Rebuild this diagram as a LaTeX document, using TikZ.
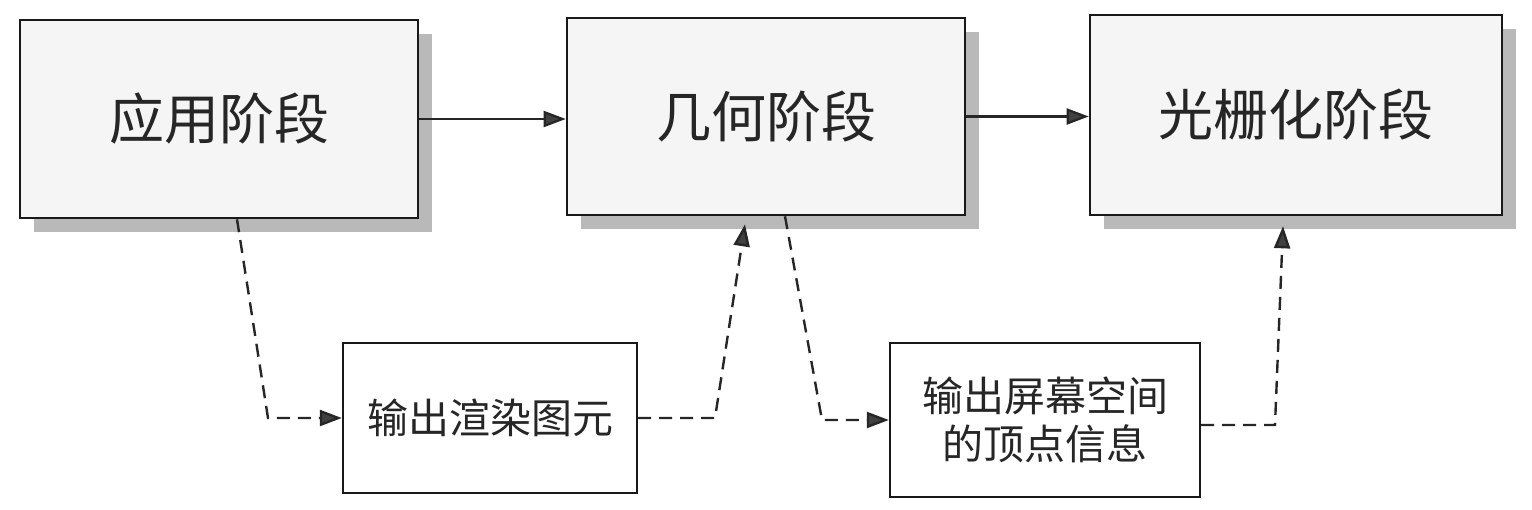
\documentclass[tikz,border=0pt]{standalone}
\usepackage{fontspec}
\setmainfont{Noto Sans CJK SC}
\usetikzlibrary{shadows,arrows.meta,calc}
\begin{document}
\begin{tikzpicture}[x=0.5pt,y=-0.5pt,
  stagebox/.style={draw=black!90,line width=1.3pt,fill=gray!8,
    drop shadow={shadow xshift=7pt,shadow yshift=-7pt,fill=gray!55,opacity=1},
    font=\fontsize{27.5pt}{32pt}\selectfont,text=black!85,inner sep=0pt},
  outbox/.style={draw=black!90,line width=1.2pt,fill=white,
    font=\fontsize{20.5pt}{24pt}\selectfont,text=black!85,align=center,inner sep=0pt},
  flow/.style={line width=1.1pt,draw=black!85,-{Triangle[length=11pt,width=8pt,fill=black!75]}},
  dflow/.style={line width=1.2pt,draw=black!85,dash pattern=on 6.5pt off 4pt,-{Triangle[length=11pt,width=8pt,fill=black!75]}}]
\useasboundingbox (0,0) rectangle (1532,509);
\node[stagebox,minimum width=199pt,minimum height=99pt] (b1) at (219,119) {应用阶段};
\node[stagebox,minimum width=199pt,minimum height=98.5pt] (b2) at (766,116.5) {几何阶段};
\node[stagebox,minimum width=206pt,minimum height=100pt] (b3) at (1296,115) {光栅化阶段};
\node[outbox,minimum width=147pt,minimum height=75pt] (s1) at (490,418) {输出渲染图元};
\node[outbox,minimum width=155pt,minimum height=77pt] (s2) at (1045,420) {输出屏幕空间\\的顶点信息};
\coordinate (c1) at (268,418);
\coordinate (c2) at (715,418);
\coordinate (c3) at (822,420);
\coordinate (c4) at (1275,425);
\draw[flow] (b1.east) -- (b1.east -| b2.west);
\draw[flow] (b2.east) -- (b2.east -| b3.west);
\draw[dflow] ([xshift=9pt]b1.south) -- (c1) -- (s1.west);
\draw[dflow] (s1.east) -- (c2) -- ([xshift=-10.5pt,yshift=-4pt]b2.south);
\draw[dflow] ([xshift=9.5pt]b2.south) -- (c3) -- (s2.west);
\draw[dflow] ([yshift=-2.5pt]s2.east) -- (c4) -- ([xshift=-6.5pt,yshift=-5pt]b3.south);
\end{tikzpicture}
\end{document}
